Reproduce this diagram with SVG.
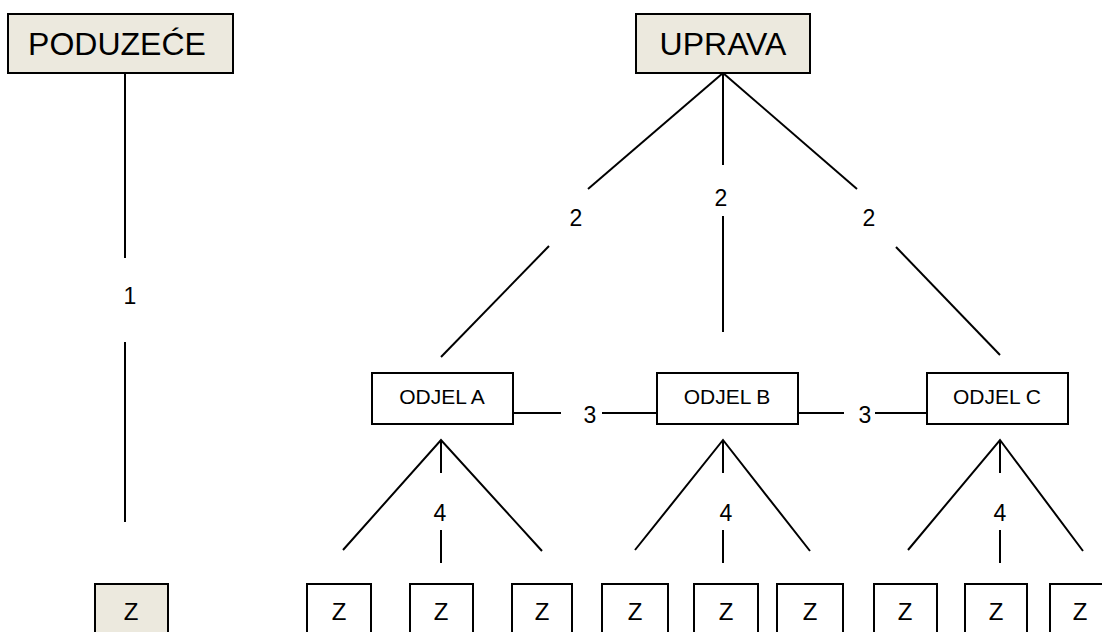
<svg xmlns="http://www.w3.org/2000/svg" width="1102" height="632" viewBox="0 0 1102 632">
<style>
.box{fill:#ffffff;stroke:#000;stroke-width:2}
.gray{fill:#ECE9DE;stroke:#000;stroke-width:2}
.ln{stroke:#000;stroke-width:2;fill:none}
text{font-family:"Liberation Sans",Arial,sans-serif;fill:#000;text-anchor:middle}
.big{font-size:32px}
.mid{font-size:21px}
.z{font-size:24px}
.lbl{font-size:23px}
</style>
<rect width="1102" height="632" fill="#ffffff"/>
<g id="connectors">
<line class="ln" x1="125" y1="73" x2="125" y2="258"/>
<line class="ln" x1="125" y1="342" x2="125" y2="522"/>
<line class="ln" x1="723" y1="73" x2="588" y2="189"/>
<line class="ln" x1="549" y1="246" x2="441" y2="357"/>
<line class="ln" x1="723" y1="73" x2="723" y2="165"/>
<line class="ln" x1="723" y1="216" x2="723" y2="332"/>
<line class="ln" x1="723" y1="73" x2="857" y2="189"/>
<line class="ln" x1="896" y1="247" x2="1000" y2="355"/>
<line class="ln" x1="513" y1="413" x2="561" y2="413"/>
<line class="ln" x1="602" y1="413" x2="657" y2="413"/>
<line class="ln" x1="798" y1="413" x2="844" y2="413"/>
<line class="ln" x1="875" y1="413" x2="927" y2="413"/>
<polyline class="ln" points="343,550 441,440 542,551"/>
<line class="ln" x1="441" y1="440" x2="441" y2="473"/>
<line class="ln" x1="441" y1="530" x2="441" y2="563"/>
<polyline class="ln" points="635,550 723,440 810,551"/>
<line class="ln" x1="723" y1="440" x2="723" y2="473"/>
<line class="ln" x1="723" y1="530" x2="723" y2="563"/>
<polyline class="ln" points="908,550 1000,440 1083,551"/>
<line class="ln" x1="1000" y1="440" x2="1000" y2="473"/>
<line class="ln" x1="1000" y1="530" x2="1000" y2="563"/>
<text class="lbl" x="130" y="304">1</text>
<text class="lbl" x="576" y="226">2</text>
<text class="lbl" x="721" y="206">2</text>
<text class="lbl" x="869" y="226">2</text>
<text class="lbl" x="590" y="423">3</text>
<text class="lbl" x="865" y="423">3</text>
<text class="lbl" x="440" y="521">4</text>
<text class="lbl" x="726" y="521">4</text>
<text class="lbl" x="1000" y="521">4</text>
</g>
<g id="poduzece"><rect class="gray" x="8" y="14" width="225" height="59"/><text class="big" x="117" y="55">PODUZEĆE</text></g>
<g id="uprava"><rect class="gray" x="636" y="14" width="174" height="59"/><text class="big" x="723" y="55">UPRAVA</text></g>
<g id="odjelA"><rect class="box" x="372" y="373" width="141" height="51"/><text class="mid" x="442" y="404">ODJEL A</text></g>
<g id="odjelB"><rect class="box" x="657" y="373" width="141" height="51"/><text class="mid" x="727" y="404">ODJEL B</text></g>
<g id="odjelC"><rect class="box" x="927" y="373" width="141" height="51"/><text class="mid" x="997" y="404">ODJEL C</text></g>
<g id="z0"><rect class="gray" x="95" y="584" width="73" height="60"/><text class="z" x="131" y="620">Z</text></g>
<g id="z1"><rect class="box" x="307" y="584" width="64" height="60"/><text class="z" x="339" y="620">Z</text></g>
<g id="z2"><rect class="box" x="410" y="584" width="63" height="60"/><text class="z" x="441" y="620">Z</text></g>
<g id="z3"><rect class="box" x="512" y="584" width="60" height="60"/><text class="z" x="542" y="620">Z</text></g>
<g id="z4"><rect class="box" x="602" y="584" width="66" height="60"/><text class="z" x="635" y="620">Z</text></g>
<g id="z5"><rect class="box" x="694" y="584" width="64" height="60"/><text class="z" x="726" y="620">Z</text></g>
<g id="z6"><rect class="box" x="777" y="584" width="66" height="60"/><text class="z" x="810" y="620">Z</text></g>
<g id="z7"><rect class="box" x="874" y="584" width="63" height="60"/><text class="z" x="905" y="620">Z</text></g>
<g id="z8"><rect class="box" x="965" y="584" width="62" height="60"/><text class="z" x="996" y="620">Z</text></g>
<g id="z9"><rect class="box" x="1050" y="584" width="62" height="60"/><text class="z" x="1080" y="620">Z</text></g>
</svg>
